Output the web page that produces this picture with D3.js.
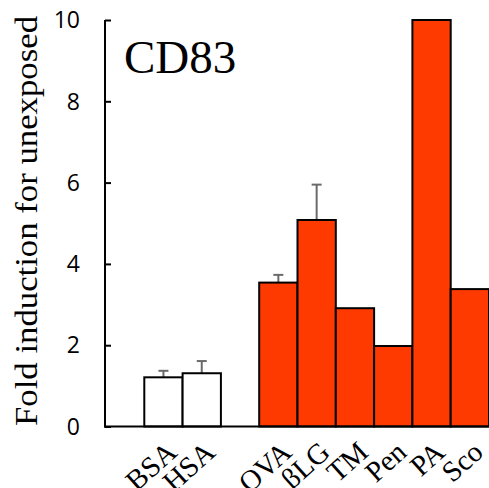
<!DOCTYPE html>
<html>
<head>
<meta charset="utf-8">
<script src="https://cdn.jsdelivr.net/npm/d3@7"></script>
<style>
  body { margin: 0; background: #fff; overflow: hidden; }
</style>
</head>
<body>
<script>
// CD83 fold induction bar chart

const w = 489;
const h = 488;

// data
const slots = ["_a", "BSA", "HSA", "_b", "OVA", "βLG", "TM", "Pen", "PA", "Sco"];
const categories = ["BSA", "HSA", "OVA", "βLG", "TM", "Pen", "PA", "Sco"];
const values = [1.21, 1.31, 3.54, 5.08, 2.91, 1.98, 10, 3.38];
const errors = [0.16, 0.30, 0.19, 0.87, 0, 0, 0, 0];
const groups = ["control", "control", "allergen", "allergen", "allergen", "allergen", "allergen", "allergen"];
const yTicks = [0, 2, 4, 6, 8, 10];

const data = categories.map((c, i) => ({
  name: c, value: values[i], err: errors[i], group: groups[i]
}));

const svg = d3.select("body")
  .append("svg")
  .attr("width", w)
  .attr("height", h)
  .style("display", "block");

const x_scale = d3.scaleBand()
  .domain(slots)
  .range([106, 489])
  .padding(0);

const y_scale = d3.scaleLinear()
  .domain([0, 10])
  .range([426.5, 20]);

const fill = d3.scaleOrdinal()
  .domain(["control", "allergen"])
  .range(["#ffffff", "#ff3a00"]);

const cx = d => x_scale(d.name) + x_scale.bandwidth() / 2;

// error bars (drawn first, bar tops cover their base)
const eb = svg.selectAll(".err")
  .data(data.filter(d => d.err > 0))
  .enter()
  .append("g")
  .attr("class", "err")
  .attr("stroke", "#6a6a6a")
  .attr("stroke-width", 2);

eb.append("line")
  .attr("x1", cx)
  .attr("x2", cx)
  .attr("y1", d => y_scale(d.value))
  .attr("y2", d => y_scale(d.value + d.err));

eb.append("line")
  .attr("x1", d => cx(d) - 5)
  .attr("x2", d => cx(d) + 5)
  .attr("y1", d => y_scale(d.value + d.err))
  .attr("y2", d => y_scale(d.value + d.err));

svg.selectAll("rect.bar")
  .data(data)
  .enter()
  .append("rect")
  .attr("class", "bar")
  .attr("x", d => x_scale(d.name))
  .attr("y", d => y_scale(d.value))
  .attr("width", x_scale.bandwidth())
  .attr("height", d => y_scale(0) - y_scale(d.value))
  .attr("fill", d => fill(d.group))
  .attr("stroke", "#000")
  .attr("stroke-width", 2);

// y axis with inward ticks
const y_axis = d3.axisRight(y_scale)
  .tickValues(yTicks)
  .tickSize(6)
  .tickPadding(0)
  .tickFormat("");

const yg = svg.append("g")
  .attr("class", "y axis")
  .attr("transform", "translate(105,0)")
  .call(y_axis);
yg.select(".domain").remove();
yg.selectAll("line").attr("stroke", "#000").attr("stroke-width", 2);
yg.append("line")
  .attr("x1", 0).attr("x2", 0)
  .attr("y1", y_scale(10)).attr("y2", y_scale(0) + 1)
  .attr("stroke", "#000").attr("stroke-width", 2);

svg.selectAll("text.ytick")
  .data(yTicks)
  .enter()
  .append("text")
  .attr("class", "ytick")
  .attr("x", 80)
  .attr("y", d => y_scale(d))
  .attr("dy", "0.36em")
  .attr("text-anchor", "end")
  .attr("font-family", "'Open Sans', sans-serif")
  .attr("font-size", 23)
  .text(d => d);

// x axis line
svg.append("line")
  .attr("x1", 104).attr("x2", w)
  .attr("y1", y_scale(0)).attr("y2", y_scale(0))
  .attr("stroke", "#000").attr("stroke-width", 2);

// rotated category labels
svg.selectAll("text.xlab")
  .data(data)
  .enter()
  .append("text")
  .attr("class", "xlab")
  .attr("transform", d => `translate(${cx(d) + 15},${y_scale(0) + 28}) rotate(-42)`)
  .attr("text-anchor", "end")
  .attr("font-family", "'Liberation Serif', serif")
  .attr("font-size", 29)
  .text(d => d.name);

// y title
svg.append("text")
  .attr("transform", "translate(37,221) rotate(-90)")
  .attr("text-anchor", "middle")
  .attr("font-family", "'Liberation Serif', serif")
  .attr("font-size", 32)
  .attr("textLength", 410)
  .attr("lengthAdjust", "spacingAndGlyphs")
  .text("Fold induction for unexposed");

// panel title
svg.append("text")
  .attr("x", 124)
  .attr("y", 73)
  .attr("font-family", "'Liberation Serif', serif")
  .attr("font-size", 47)
  .text("CD83");
</script>
</body>
</html>
